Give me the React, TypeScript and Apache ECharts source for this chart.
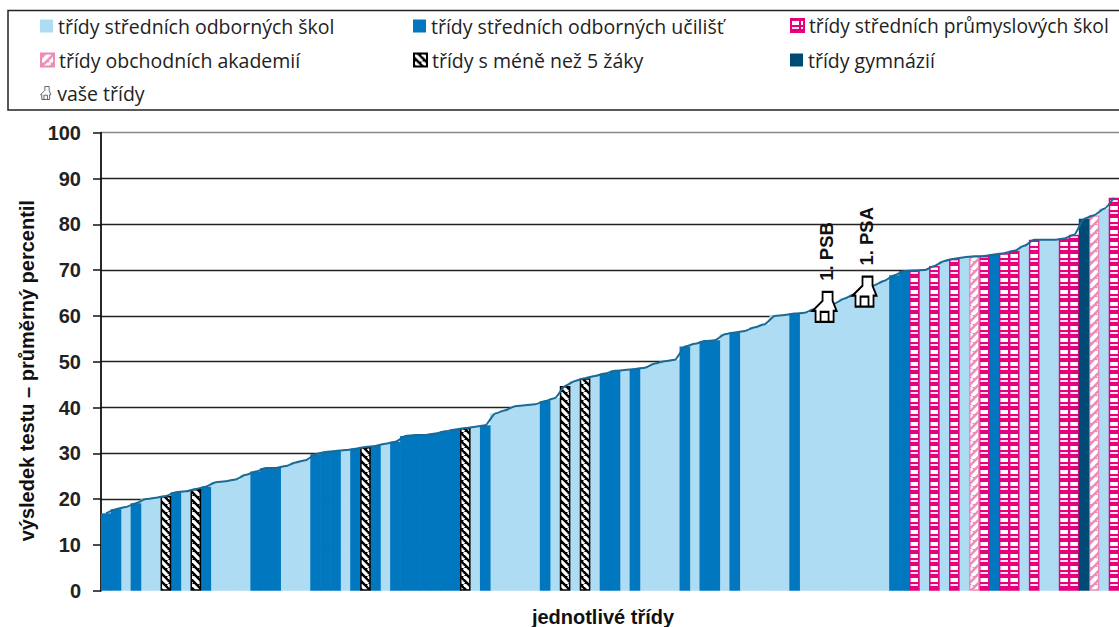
import React, { useEffect, useRef } from "react";
import * as echarts from "echarts";

const S = "třídy středních odborných škol";
const U = "třídy středních odborných učilišť";
const P = "třídy středních průmyslových škol";
const A = "třídy obchodních akademií";
const M = "třídy s méně než 5 žáky";
const G = "třídy gymnázií";
const V = "vaše třídy";

const classTypes = [
  U, U, S, U, S, S, M, U, S, M, U, S, S, S, S, U, U, U, S, S,
  S, U, U, U, S, U, M, U, S, U, U, U, U, U, U, U, M, S, U, S,
  S, S, S, S, U, S, M, S, M, S, U, U, S, U, S, S, S, S, U, S,
  U, U, S, U, S, S, S, S, S, U, S, S, S, S, S, S, S, S, S, U,
  U, P, S, P, S, P, S, A, P, U, P, P, S, P, S, S, P, P, G, A,
  S, P,
];

const values = [
  16.9, 17.8, 18.3, 19.1, 20.0, 20.3, 20.7, 21.5, 21.7, 22.2, 22.7, 23.7, 23.9, 24.3, 25.3, 26.0, 26.8, 26.8, 27.2, 28.0,
  28.5, 29.8, 30.3, 30.5, 30.7, 31.0, 31.4, 31.6, 32.1, 32.5, 33.8, 34.0, 34.0, 34.3, 34.8, 35.2, 35.5, 35.8, 36.1, 38.7,
  39.4, 40.3, 40.5, 40.7, 41.4, 42.1, 44.7, 45.8, 46.4, 46.9, 47.4, 48.0, 48.2, 48.4, 48.7, 49.6, 50.1, 50.4, 53.3, 53.9,
  54.5, 54.7, 56.0, 56.4, 56.7, 57.5, 58.2, 60.0, 60.2, 60.5, 60.7, 61.5, 62.2, 62.7, 63.8, 64.7, 65.5, 66.7, 67.7, 68.9,
  69.8, 69.9, 70.0, 70.9, 72.0, 72.5, 72.8, 73.0, 73.1, 73.4, 73.7, 74.2, 75.3, 76.6, 76.6, 76.6, 76.9, 77.7, 81.2, 82.0,
  83.4, 85.8,
];

const categories = values.map((_, i) => String(i + 1));
const yourClassIndexes = [72, 76];
const yourClassNames = ["1. PSB", "1. PSA"];
const yTicks = { min: 0, max: 100, interval: 10 };
const gridColors = ["transparent", "#222222", "#222222", "#222222", "#222222", "#222222", "#222222", "#222222", "#222222", "#222222", "#888888"];

const housePath =
  "path://M10 0H20V9L24 19H21V30H3V19H0L10 9ZM8 30V20H16V30Z";

function tile(w: number, h: number, draw: (c: CanvasRenderingContext2D) => void) {
  const cv = document.createElement("canvas");
  cv.width = w;
  cv.height = h;
  draw(cv.getContext("2d") as CanvasRenderingContext2D);
  return { image: cv, repeat: "repeat" };
}

export default function App() {
  const ref = useRef<HTMLDivElement>(null);

  useEffect(() => {
    const chart = echarts.init(ref.current as HTMLDivElement, undefined, { renderer: "svg" });

    const magentaFill = tile(10, 12, (c) => {
      c.fillStyle = "#e6007e";
      c.fillRect(0, 0, 10, 12);
      c.fillStyle = "#ffffff";
      c.fillRect(0, 2, 8, 4);
      c.fillStyle = "#ffe0ef";
      c.fillRect(0, 8, 8, 2);
    });
    const diag = (bg: string, fg: string, n: number, lw: number, rising: boolean) =>
      tile(n, n, (c) => {
        c.fillStyle = bg;
        c.fillRect(0, 0, n, n);
        c.strokeStyle = fg;
        c.lineWidth = lw;
        for (let k = -n; k <= n; k += n) {
          c.beginPath();
          if (rising) {
            c.moveTo(k, n);
            c.lineTo(k + n, 0);
          } else {
            c.moveTo(k, 0);
            c.lineTo(k + n, n);
          }
          c.stroke();
        }
      });
    const pinkFill = diag("#ee8ab8", "#ffffff", 9, 4, true);
    const blackFill = diag("#000000", "#ffffff", 8, 3.2, false);

    const barTypes = [
      { name: S, color: "#aedcf3" as any, border: "#aedcf3", bw: 0 },
      { name: U, color: "#0077bf" as any, border: "#0077bf", bw: 0 },
      { name: P, color: magentaFill as any, border: "#e6007e", bw: 1.5 },
      { name: A, color: pinkFill as any, border: "#ee8ab8", bw: 1.5 },
      { name: M, color: blackFill as any, border: "#000000", bw: 1.5 },
      { name: G, color: "#004b76" as any, border: "#004b76", bw: 0 },
    ];

    const legendAt = (name: string, left: number, top: number, fontSize = 19.5, extra: any = {}) => ({
      show: true,
      left,
      top,
      padding: 0,
      itemWidth: 13,
      itemHeight: 13,
      itemGap: 0,
      icon: "rect",
      selectedMode: false,
      textStyle: { fontFamily: "Open Sans", fontSize, color: "#222222" },
      data: [{ name, ...extra }],
    });

    chart.setOption({
      animation: false,
      backgroundColor: "#ffffff",
      textStyle: { fontFamily: "Liberation Sans" },
      legend: [
        legendAt(S, 40, 16),
        legendAt(U, 413, 16),
        legendAt(P, 790, 16, 19.2),
        legendAt(A, 40, 50),
        legendAt(M, 413, 50),
        legendAt(G, 790, 50),
        legendAt(V, 40, 83, 19.5, {
          icon: housePath,
          itemStyle: { color: "#ffffff", borderColor: "#666666", borderWidth: 1 },
        }),
      ],
      graphic: [
        {
          type: "polyline",
          silent: true,
          shape: { points: [[1119, 10.5], [8, 10.5], [8, 110], [1119, 110]] },
          style: { fill: "none", stroke: "#222222", lineWidth: 1.5 },
        },
      ],
      grid: { left: 101, right: 0, top: 132.7, bottom: 36.3, containLabel: false, outerBoundsMode: "none" },
      xAxis: {
        type: "category",
        data: categories,
        axisLine: { show: false },
        axisTick: { show: false },
        axisLabel: { show: false },
        splitLine: { show: false },
        name: "jednotlivé třídy",
        nameLocation: "middle",
        nameGap: 16,
        nameTextStyle: {
          fontFamily: "Liberation Sans",
          fontWeight: "bold",
          fontSize: 20,
          color: "#111111",
          padding: [0, 14, 0, 0],
        },
      },
      yAxis: {
        type: "value",
        min: yTicks.min,
        max: yTicks.max,
        interval: yTicks.interval,
        axisLine: { show: true, lineStyle: { color: "#111111", width: 1.8 } },
        axisTick: { show: true, length: 8, lineStyle: { color: "#111111", width: 1.5 } },
        axisLabel: {
          fontFamily: "Liberation Sans",
          fontWeight: "bold",
          fontSize: 20,
          color: "#222222",
          margin: 20,
        },
        splitLine: { show: true, lineStyle: { color: gridColors, width: 1.4 } },
        name: "výsledek testu – průměrný percentil",
        nameLocation: "middle",
        nameRotate: 90,
        nameGap: 61,
        nameTextStyle: {
          fontFamily: "Liberation Sans",
          fontWeight: "bold",
          fontSize: 20,
          color: "#111111",
          padding: [0, 18, 0, 0],
        },
      },
      series: [
        ...barTypes.map((t) => ({
          type: "bar",
          name: t.name,
          stack: "all",
          barWidth: 10.6,
          itemStyle: { color: t.color, borderColor: t.border, borderWidth: t.bw },
          emphasis: { disabled: true },
          data: values.map((v, i) => (classTypes[i] === t.name ? v : null)),
          z: 2,
        })),
        {
          type: "line",
          name: "průběh",
          data: values,
          symbol: "none",
          smooth: 0.2,
          smoothMonotone: "x",
          lineStyle: { color: "#1a6a95", width: 2 },
          z: 3,
        },
        {
          type: "scatter",
          name: V,
          symbol: housePath,
          symbolSize: [24, 30],
          symbolOffset: [0, 1],
          itemStyle: { color: "#ffffff", borderColor: "#000000", borderWidth: 2, opacity: 1 },
          label: {
            show: true,
            position: "top",
            distance: 12,
            rotate: 90,
            align: "left",
            verticalAlign: "middle",
            fontFamily: "Liberation Sans",
            fontWeight: "bold",
            fontSize: 18.5,
            color: "#111111",
            offset: [-2, 2],
            formatter: (p: any) => yourClassNames[p.dataIndex],
          },
          data: yourClassIndexes.map((i) => [i, values[i]]),
          z: 5,
        },
      ],
    });

    return () => chart.dispose();
  }, []);

  return (
    <div
      ref={ref}
      style={{ position: "absolute", left: 0, top: 0, width: 1119, height: 627 }}
    />
  );
}
